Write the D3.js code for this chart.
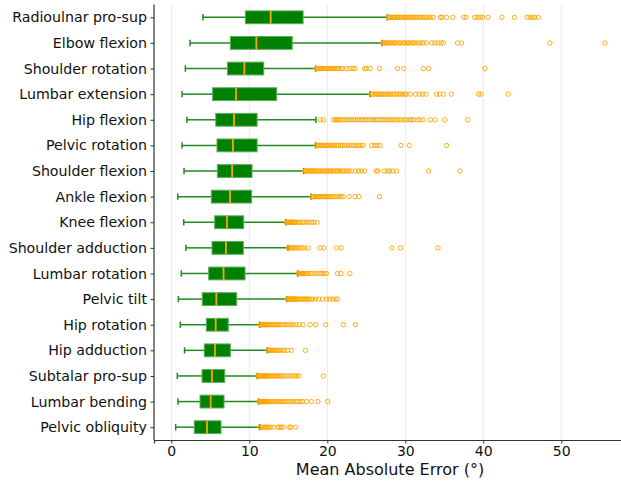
<!DOCTYPE html>
<html>
<head>
<meta charset="utf-8">
<script src="https://cdn.jsdelivr.net/npm/d3@7"></script>
<style>
  html, body { margin: 0; padding: 0; background: #ffffff; }
  svg { display: block; }
  text { font-family: "DejaVu Sans", sans-serif; }
</style>
</head>
<body>
<svg id="chart" width="621" height="481"></svg>
<script>
// ---- data (top to bottom) ----
const categories = [
  "Radioulnar pro-sup", "Elbow flexion", "Shoulder rotation", "Lumbar extension",
  "Hip flexion", "Pelvic rotation", "Shoulder flexion", "Ankle flexion",
  "Knee flexion", "Shoulder adduction", "Lumbar rotation", "Pelvic tilt",
  "Hip rotation", "Hip adduction", "Subtalar pro-sup", "Lumbar bending", "Pelvic obliquity"
];
const whiskerLow  = [4.06, 2.4, 1.8, 1.37, 2.0, 1.37, 1.63, 0.82, 1.59, 1.88, 1.28, 0.9, 1.15, 1.7, 0.77, 0.86, 0.56];
const q1          = [9.5, 7.57, 7.2, 5.3, 5.7, 5.86, 5.9, 5.13, 5.56, 5.22, 4.79, 3.97, 4.49, 4.23, 3.94, 3.68, 2.95];
const medians     = [12.74, 10.9, 9.36, 8.3, 8.04, 7.9, 7.8, 7.53, 7.14, 7.0, 6.7, 5.77, 5.69, 5.6, 5.22, 5.05, 4.58];
const q3          = [16.9, 15.5, 11.85, 13.5, 11.0, 11.0, 10.35, 10.3, 9.28, 9.23, 9.45, 8.38, 7.3, 7.57, 6.85, 6.76, 6.37];
const whiskerHigh = [27.7, 27.0, 18.5, 25.5, 18.55, 18.5, 16.97, 17.9, 14.67, 14.96, 16.2, 14.8, 11.33, 12.3, 11.0, 11.2, 11.33];
const outliers = [
  [27.8,27.9,28.0,28.2,28.3,28.5,28.6,28.8,29.0,29.1,29.3,29.5,29.7,29.9,30.1,30.3,30.5,30.7,30.9,31.1,31.3,31.5,31.8,32.0,32.2,32.5,32.7,33.0,33.3,33.6,34.5,34.7,35.3,36.1,37.5,37.8,38.9,39.2,39.6,39.9,40.6,42.4,44.0,45.6,46.0,46.3,46.6,47.05],
  [27.1,27.2,27.4,27.5,27.7,27.9,28.1,28.3,28.5,28.7,28.9,29.2,29.4,29.7,29.9,30.2,30.4,30.6,30.9,31.1,31.4,31.7,32.0,32.3,32.7,33.4,33.8,34.2,34.6,34.9,36.7,37.2,48.55,55.6],
  [18.6,18.7,18.8,19.0,19.1,19.3,19.4,19.6,19.8,19.9,20.1,20.3,20.5,20.7,20.9,21.1,21.3,21.5,21.8,22.0,22.5,22.9,23.3,23.55,24.8,25.0,25.5,26.7,29.0,29.8,32.3,33.0,40.2],
  [25.6,25.8,26.0,26.2,26.4,26.6,26.8,27.0,27.2,27.4,27.7,27.9,28.1,28.4,28.6,28.9,29.2,29.4,29.7,30.0,30.1,30.6,31.3,31.8,32.2,32.65,34.0,34.4,34.9,35.9,39.4,39.7,43.2],
  [19.1,19.5,20.8,21.0,21.2,21.4,21.6,21.9,22.1,22.4,22.6,22.9,23.1,23.4,23.6,23.9,24.1,24.4,24.6,24.9,25.1,25.4,25.7,25.9,26.2,26.4,26.7,27.0,27.2,27.5,27.7,28.0,28.3,28.6,28.9,29.2,29.5,29.9,30.2,30.6,30.8,31.1,31.6,31.9,32.3,33.2,33.8,35.05,38.0],
  [18.6,18.7,18.9,19.0,19.2,19.3,19.5,19.7,19.9,20.1,20.3,20.5,20.7,20.9,21.2,21.4,21.7,21.9,22.2,22.5,22.8,23.1,23.4,23.7,24.0,24.3,24.6,25.7,26.1,26.4,26.75,29.45,30.5,35.3],
  [17.1,17.2,17.3,17.5,17.6,17.8,17.9,18.1,18.2,18.4,18.6,18.8,19.0,19.2,19.4,19.6,19.8,20.0,20.2,20.4,20.6,20.8,21.0,21.3,21.5,21.7,22.0,22.2,22.5,22.8,23.1,23.6,24.0,24.4,24.8,26.3,26.5,27.3,27.7,28.0,28.4,28.9,33.0,37.0],
  [18.0,18.1,18.2,18.4,18.5,18.7,18.9,19.0,19.2,19.4,19.6,19.8,20.0,20.2,20.4,20.7,20.9,21.2,21.5,21.8,22.05,22.8,23.55,24.05,26.7],
  [14.75,14.8,14.9,15.0,15.1,15.2,15.3,15.4,15.5,15.6,15.8,15.9,16.1,16.3,16.5,16.8,17.1,17.4,17.7,18.0,18.3,18.7],
  [15.0,15.1,15.2,15.4,15.6,15.8,16.0,16.2,16.5,16.8,17.1,17.56,19.06,19.58,21.2,21.76,28.3,29.4,34.2],
  [16.3,16.4,16.5,16.6,16.7,16.8,16.9,17.0,17.2,17.4,17.56,17.9,18.3,18.6,19.0,19.3,19.6,19.9,21.3,21.76,22.9],
  [14.85,14.9,15.0,15.1,15.2,15.3,15.4,15.5,15.6,15.7,15.8,15.9,16.0,16.2,16.4,16.6,16.8,17.0,17.2,17.4,17.6,17.8,18.1,18.5,18.9,19.4,19.9,20.3,20.7,21.0,21.3],
  [11.4,11.5,11.6,11.7,11.8,11.9,12.0,12.1,12.2,12.4,12.5,12.7,12.9,13.1,13.3,13.5,13.7,13.9,14.15,14.4,14.7,15.0,15.3,15.6,16.0,16.4,16.9,17.8,18.5,19.8,22.05,23.6],
  [12.4,12.5,12.6,12.7,12.8,12.9,13.1,13.3,13.5,13.7,13.9,14.2,14.5,14.9,15.4,17.2],
  [11.05,11.1,11.2,11.3,11.4,11.5,11.6,11.7,11.8,11.9,12.0,12.1,12.2,12.4,12.5,12.7,12.9,13.1,13.3,13.5,13.7,13.9,14.1,14.36,14.6,14.9,15.2,15.5,15.8,16.1,16.4,19.5],
  [11.25,11.3,11.4,11.5,11.6,11.7,11.8,11.9,12.0,12.1,12.2,12.3,12.4,12.6,12.8,13.0,13.2,13.4,13.6,13.8,14.0,14.2,14.4,14.7,15.0,15.3,15.6,15.9,16.2,16.5,16.8,17.3,17.95,18.8,20.05],
  [11.37,11.5,11.7,11.9,12.1,12.3,12.5,12.7,13.08,13.7,13.9,14.1,14.36,15.1,15.3,15.95]
];
const xTicks = [0, 10, 20, 30, 40, 50];
const xLabel = "Mean Absolute Error (°)";

// ---- layout ----
const plot = { left: 154, right: 626, top: 4.5, bottom: 440 };
const svg = d3.select("#chart");

const x = d3.scaleLinear().domain([-2.22, 58.3]).range([plot.left, plot.right]);
const y = d3.scalePoint().domain(categories).range([plot.top, plot.bottom]).padding(0.5);
const step = y.step();
const boxH = step * 0.5;
const capH = step * 0.25;

// grid
svg.append("g").selectAll("line").data(xTicks).join("line")
  .attr("x1", d => x(d)).attr("x2", d => x(d))
  .attr("y1", plot.top).attr("y2", plot.bottom)
  .attr("stroke", "#e8e8e8").attr("stroke-width", 1);

const rows = categories.map((c, i) => ({
  c, lo: whiskerLow[i], q1: q1[i], med: medians[i], q3: q3[i], hi: whiskerHigh[i], out: outliers[i]
}));

const g = svg.append("g");
const rowG = g.selectAll("g.row").data(rows).join("g").attr("class", "row");

// whiskers
rowG.append("line")
  .attr("x1", d => x(d.lo)).attr("x2", d => x(d.q1))
  .attr("y1", d => y(d.c)).attr("y2", d => y(d.c))
  .attr("stroke", "#208a20").attr("stroke-width", 1.5);
rowG.append("line")
  .attr("x1", d => x(d.q3)).attr("x2", d => x(d.hi))
  .attr("y1", d => y(d.c)).attr("y2", d => y(d.c))
  .attr("stroke", "#208a20").attr("stroke-width", 1.5);
// caps
rowG.append("line")
  .attr("x1", d => x(d.lo)).attr("x2", d => x(d.lo))
  .attr("y1", d => y(d.c) - capH / 2).attr("y2", d => y(d.c) + capH / 2)
  .attr("stroke", "#208a20").attr("stroke-width", 1.5);
rowG.append("line")
  .attr("x1", d => x(d.hi)).attr("x2", d => x(d.hi))
  .attr("y1", d => y(d.c) - capH / 2).attr("y2", d => y(d.c) + capH / 2)
  .attr("stroke", "#208a20").attr("stroke-width", 1.5);

// outliers
rowG.each(function(d) {
  d3.select(this).selectAll("circle").data(d.out).join("circle")
    .attr("cx", v => x(v)).attr("cy", y(d.c)).attr("r", 2.2)
    .attr("fill", "none").attr("stroke", "#ffa500").attr("stroke-width", 0.9);
});

// boxes
rowG.append("rect")
  .attr("x", d => x(d.q1)).attr("width", d => x(d.q3) - x(d.q1))
  .attr("y", d => y(d.c) - boxH / 2).attr("height", boxH)
  .attr("fill", "#008000").attr("stroke", "#5aae5a").attr("stroke-width", 1);
// medians
rowG.append("line")
  .attr("x1", d => x(d.med)).attr("x2", d => x(d.med))
  .attr("y1", d => y(d.c) - boxH / 2).attr("y2", d => y(d.c) + boxH / 2)
  .attr("stroke", "#ffa500").attr("stroke-width", 1.8);

// axes
const xAxis = d3.axisBottom(x).tickValues(xTicks).tickSize(3.5).tickPadding(3);
const xg = svg.append("g").attr("transform", `translate(0,${plot.bottom})`).call(xAxis);
xg.select(".domain").attr("stroke", "#333").attr("stroke-width", 1.2);
xg.selectAll(".tick line").attr("stroke", "#333");
xg.selectAll("text").attr("font-size", 14).attr("fill", "#111").attr("font-family", "DejaVu Sans");

const yAxis = d3.axisLeft(y).tickSize(3.5).tickPadding(3.5);
const yg = svg.append("g").attr("transform", `translate(${plot.left},0)`).call(yAxis);
yg.select(".domain").attr("d", `M0,${plot.top}V${plot.bottom}`).attr("stroke", "#333").attr("stroke-width", 1.2);
yg.selectAll(".tick line").attr("stroke", "#333");
yg.selectAll("text").attr("font-size", 14.2).attr("fill", "#111").attr("font-family", "DejaVu Sans");

svg.append("text")
  .attr("x", (plot.left + plot.right) / 2).attr("y", 475)
  .attr("text-anchor", "middle").attr("font-size", 16).attr("fill", "#111")
  .text(xLabel);
</script>
</body>
</html>
